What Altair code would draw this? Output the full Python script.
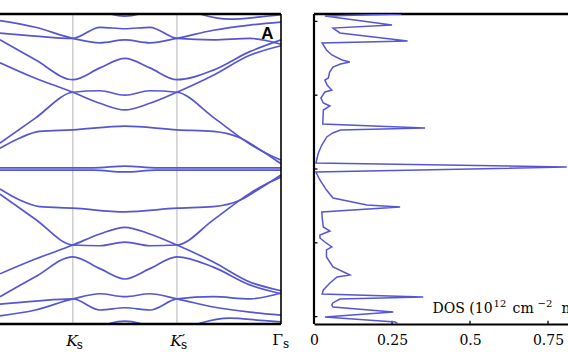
import altair as alt
import pandas as pd

# ---------------- data ----------------
# k along the path (Gamma=0, Ks=1, K's=2, Gamma_s=3); E in meV-like units
K_STD = [0.3, 0.64, 1.0, 1.26, 1.5, 1.74, 2.0, 2.35, 2.7, 3.0]
K_A = [0.3, 0.64, 1.0, 1.26, 1.5, 1.74, 2.0, 2.35, 2.7, 2.89, 3.0]
K_NEAR = [0.3, 0.49, 0.68, 1.0, 1.5, 2.0, 2.35, 2.61, 2.8, 3.0]
K_FLAT = [0.3, 1.0, 1.2, 1.5, 1.8, 2.0, 3.0]
K_EDGE = [2.0, 2.22, 2.51, 2.8, 3.0]
K_BLOB = [1.21, 1.36, 1.5, 1.64, 1.79]

# upper bands
E_T1 = [20.1, 19.2, 17.7, 17.1, 17.5, 17.1, 17.7, 18.8, 19.5, 19.9]
E_T2 = [18.4, 18.0, 17.7, 19.2, 19.0, 19.2, 17.7, 17.5, 17.7, 16.9]
E_ARCH = [17.5, 14.8, 12.1, 13.7, 15.0, 13.7, 12.1, 13.4, 15.9, 17.5]
E_B = [14.4, 12.3, 10.4, 8.9, 8.0, 8.9, 10.4, 12.7, 15.4, 16.7]
E_A = [3.5, 6.9, 10.4, 10.6, 10.0, 10.6, 10.4, 7.0, 3.4, 1.9, 1.2]
E_U1 = [2.8, 4.2, 5.1, 5.3, 5.8, 5.3, 5.1, 4.2, 2.6, 0.7]
E_U0 = [0.15, 0.15, 0.15, 0.4, 0.15, 0.15, 0.15]
E_TOP = [22.2, 21.0, 20.3, 20.6, 20.9]
E_TOPBLOB = [21.8, 21.0, 20.7, 21.0, 21.8]
# lower bands
E_L0 = [-0.15, -0.15, -0.15, -0.4, -0.15, -0.15, -0.15]
E_L1 = [-2.7, -4.2, -5.1, -5.3, -5.8, -5.3, -5.1, -4.2, -2.6, -0.8]
E_LA = [-3.4, -6.8, -10.3, -10.4, -9.9, -10.4, -10.3, -6.9, -3.3, -1.8, -1.1]
E_LB = [-14.2, -12.2, -10.3, -8.8, -7.9, -8.8, -10.3, -12.6, -15.3, -16.5]
E_LARCH = [-17.3, -14.6, -11.9, -13.5, -14.9, -13.5, -11.9, -13.3, -15.7, -16.9]
E_LT2 = [-18.3, -17.9, -17.6, -19.1, -18.8, -19.1, -17.6, -17.3, -17.6, -16.8]
E_LT1 = [-19.9, -19.1, -17.6, -16.9, -17.3, -16.9, -17.6, -18.7, -19.4, -19.8]
E_BOT = [-22.1, -20.9, -20.2, -20.5, -20.7]
E_BOTBLOB = [-21.8, -20.9, -20.6, -20.9, -21.8]

BANDS = {
    "T1": (K_STD, E_T1), "T2": (K_STD, E_T2), "ARCH": (K_STD, E_ARCH),
    "B": (K_STD, E_B), "A": (K_A, E_A), "U1": (K_NEAR, E_U1),
    "U0": (K_FLAT, E_U0), "TOP": (K_EDGE, E_TOP), "TOPBLOB": (K_BLOB, E_TOPBLOB),
    "L0": (K_FLAT, E_L0), "L1": (K_NEAR, E_L1), "LA": (K_A, E_LA),
    "LB": (K_STD, E_LB), "LARCH": (K_STD, E_LARCH), "LT2": (K_STD, E_LT2),
    "LT1": (K_STD, E_LT1), "BOT": (K_EDGE, E_BOT), "BOTBLOB": (K_BLOB, E_BOTBLOB),
}

DOS_E = [21.00, 20.73, 19.51, 19.10, 18.43, 17.34, 17.07, 16.12, 15.45, 14.77,
         14.50, 14.23, 13.82, 13.14, 12.33, 12.06, 11.38, 10.70, 10.43, 9.62,
         8.94, 8.54, 7.99, 6.10, 5.55, 5.28, 4.88, 4.34, 3.25, 2.17,
         0.81, 0.27, -0.41, -1.49, -2.85, -3.93, -4.88, -5.15, -5.83, -6.91,
         -7.86, -8.40, -8.94, -9.35, -9.89, -10.57, -10.97, -11.92, -13.28, -14.36,
         -14.63, -15.45, -16.39, -16.94, -17.34, -17.61, -18.15, -18.43, -18.70, -19.37,
         -20.05, -20.73, -21.00]
DOS_VAL = [0.28, 0.035, 0.25, 0.061, 0.083, 0.30, 0.026, 0.04, 0.057, 0.09,
           0.115, 0.085, 0.061, 0.05, 0.046, 0.035, 0.042, 0.057, 0.035, 0.022,
           0.03, 0.051, 0.03, 0.028, 0.356, 0.085, 0.06, 0.041, 0.025, 0.014,
           0.006, 0.81, 0.006, 0.019, 0.04, 0.061, 0.17, 0.276, 0.025, 0.027,
           0.03, 0.051, 0.019, 0.019, 0.035, 0.057, 0.04, 0.04, 0.061, 0.115,
           0.074, 0.051, 0.03, 0.026, 0.35, 0.083, 0.06, 0.057, 0.061, 0.254,
           0.035, 0.26, 0.27]

K_TICKS = [1, 2, 3]
TICK_MAIN = ["K", "K", "Γ"]
DOS_TICKS = [0, 0.25, 0.5, 0.75]
E_TICKS = [-20, -10, 0, 10, 20]
DOS_LABEL = [("DOS (10", 0, 0, 14), ("12", 61, -6, 10), ("cm", 80, 0, 14),
             ("−2", 105, -6, 10), ("meV", 129, 0, 14), ("−1", 161, -6, 10), (")", 176, 0, 14)]

# ---------------- tables ----------------
rows = []
for name, (ks, es) in BANDS.items():
    for k, e in zip(ks, es):
        rows.append({"band": name, "k": k, "E": e})
bands_df = pd.DataFrame(rows)
dos_df = pd.DataFrame({"E": DOS_E, "dos": DOS_VAL})
ONE = pd.DataFrame({"i": [0]})

BLUE = "#5656d4"
SERIF = "DejaVu Serif"

ys = alt.Scale(domain=[-21, 21], nice=False, zero=False)
xl = alt.Scale(domain=[0.3, 3.0], range=[0, 281], nice=False, zero=False)
xr = alt.Scale(domain=[0, 0.814], range=[314, 568], nice=False, zero=False)


def yd(v):
    return alt.YDatum(v, scale=ys, axis=None)


def xld(v):
    return alt.XDatum(v, scale=xl, axis=None)


def xrd(v):
    return alt.XDatum(v, scale=xr, axis=None)


kgrid = alt.Chart(pd.DataFrame({"k": K_TICKS[:2]})).mark_rule(color="#b4b4b4", strokeWidth=1).encode(
    x=alt.X("k:Q", scale=xl, axis=None), y=yd(-21), y2=alt.Y2Datum(21))

bands = alt.Chart(bands_df).mark_line(interpolate="monotone", clip=True, color=BLUE, strokeWidth=1.7).encode(
    x=alt.X("k:Q", scale=xl, axis=None), y=alt.Y("E:Q", scale=ys, axis=None), detail="band:N")

fl_top = alt.Chart(ONE).mark_rule(color="black", strokeWidth=2.4).encode(x=xld(0.3), x2=alt.X2Datum(3.0), y=yd(21))
fl_bot = alt.Chart(ONE).mark_rule(color="black", strokeWidth=2.4).encode(x=xld(0.3), x2=alt.X2Datum(3.0), y=yd(-21))
fl_right = alt.Chart(ONE).mark_rule(color="black", strokeWidth=1.6).encode(x=xld(3.0), y=yd(-21), y2=alt.Y2Datum(21))
fr_top = alt.Chart(ONE).mark_rule(color="black", strokeWidth=2.4).encode(x=xrd(0), x2=alt.X2Datum(0.814), y=yd(21))
fr_left = alt.Chart(ONE).mark_rule(color="black", strokeWidth=2.2).encode(x=xrd(0), y=yd(-21), y2=alt.Y2Datum(21))

yticks = alt.Chart(pd.DataFrame({"E": E_TICKS})).mark_rule(color="black", strokeWidth=1.3).encode(
    x=xrd(0), x2=alt.X2Datum(0.011), y=alt.Y("E:Q", scale=ys, axis=None))
xticks = alt.Chart(pd.DataFrame({"d": DOS_TICKS[1:]})).mark_rule(color="black", strokeWidth=1.3).encode(
    x=alt.X("d:Q", scale=xr, axis=None), y=yd(-21), y2=alt.Y2Datum(-20.55))

dos = alt.Chart(dos_df).mark_line(color=BLUE, strokeWidth=1.5, clip=True).encode(
    x=alt.X("dos:Q", scale=xr, axis=alt.Axis(
        orient="bottom", values=DOS_TICKS, labelExpr="'' + datum.value", ticks=False, grid=False,
        domain=True, domainColor="black", domainWidth=2, labelFont=SERIF, labelFontSize=14,
        labelColor="black", labelPadding=9, labelFlush=False, labelOverlap=False, title=None)),
    y=alt.Y("E:Q", scale=ys, axis=None), order=alt.Order("E:Q"))

tick_df = pd.DataFrame({"k": K_TICKS, "t": TICK_MAIN})
lab_k = alt.Chart(tick_df[tick_df.t == "K"]).mark_text(
    font=SERIF, fontStyle="italic", fontSize=15.5, align="right", baseline="alphabetic", dx=5, color="black").encode(
    x=alt.X("k:Q", scale=xl, axis=None), y=yd(-24.0), text="t:N")
lab_g = alt.Chart(tick_df[tick_df.t == "Γ"]).mark_text(
    font=SERIF, fontSize=15.5, align="right", baseline="alphabetic", dx=2, color="black").encode(
    x=alt.X("k:Q", scale=xl, axis=None), y=yd(-23.8), text="t:N")
lab_prime = alt.Chart(pd.DataFrame({"k": [K_TICKS[1]], "t": ["′"]})).mark_text(
    font="DejaVu Sans", fontSize=14, align="left", baseline="alphabetic", dx=5, dy=-2, color="black").encode(
    x=alt.X("k:Q", scale=xl, axis=None), y=yd(-24.0), text="t:N")
lab_sub_k = alt.Chart(pd.DataFrame({"k": K_TICKS[:2], "t": ["s", "s"]})).mark_text(
    font=SERIF, fontSize=12, align="left", baseline="alphabetic", dx=4, dy=3, color="black").encode(
    x=alt.X("k:Q", scale=xl, axis=None), y=yd(-24.0), text="t:N")
lab_sub_g = alt.Chart(pd.DataFrame({"k": [K_TICKS[2]], "t": ["s"]})).mark_text(
    font=SERIF, fontSize=12, align="left", baseline="alphabetic", dx=2, dy=3, color="black").encode(
    x=alt.X("k:Q", scale=xl, axis=None), y=yd(-23.8), text="t:N")

panel_a = alt.Chart(ONE).mark_text(font="Liberation Sans", fontWeight="bold", fontSize=17,
                                   align="center", baseline="middle", color="black").encode(
    x=xld(2.87), y=yd(18.3), text=alt.value("A"))

dos_label = []
for txt, dx, dy, fs in DOS_LABEL:
    dos_label.append(alt.Chart(ONE).mark_text(font=SERIF, fontSize=fs, align="left", baseline="alphabetic",
                                              dx=dx, dy=dy, color="black").encode(
        x=xrd(0.38), y=yd(-19.5), text=alt.value(txt)))

chart = alt.layer(
    kgrid, bands, fl_top, fl_bot, fl_right, fr_top, fr_left, yticks, xticks, dos,
    lab_k, lab_g, lab_prime, lab_sub_k, lab_sub_g, panel_a, *dos_label
).resolve_scale(x="independent").properties(
    width=568, height=310,
    padding={"left": 0, "top": 14, "right": 0, "bottom": 28},
    autosize=alt.AutoSizeParams(type="none"),
).configure_view(stroke=None)

chart.save("out.html", embed_options={"renderer": "svg", "actions": False})
